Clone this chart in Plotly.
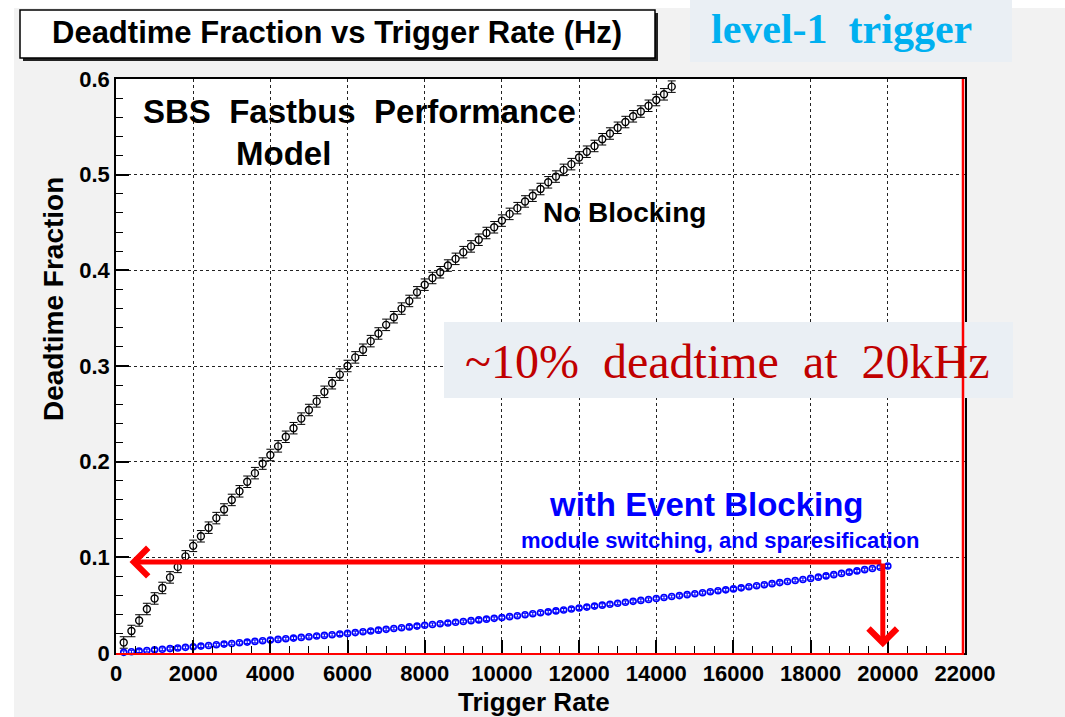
import plotly.graph_objects as go

# ---------------- data ----------------
no_block_rate = [200, 400, 600, 800, 1000, 1200, 1400, 1600, 1800, 2000,
                 2200, 2400, 2600, 2800, 3000, 3200, 3400, 3600, 3800, 4000,
                 4200, 4400, 4600, 4800, 5000, 5200, 5400, 5600, 5800, 6000,
                 6200, 6400, 6600, 6800, 7000, 7200, 7400, 7600, 7800, 8000,
                 8200, 8400, 8600, 8800, 9000, 9200, 9400, 9600, 9800, 10000,
                 10200, 10400, 10600, 10800, 11000, 11200, 11400, 11600, 11800, 12000,
                 12200, 12400, 12600, 12800, 13000, 13200, 13400, 13600, 13800, 14000,
                 14200, 14400]
no_block_dead = [0.011, 0.023, 0.034, 0.046, 0.057, 0.068, 0.079, 0.090, 0.101, 0.112,
                 0.122, 0.131, 0.141, 0.150, 0.160, 0.169, 0.179, 0.188, 0.198, 0.207,
                 0.216, 0.226, 0.235, 0.245, 0.254, 0.263, 0.273, 0.282, 0.291, 0.300,
                 0.309, 0.317, 0.326, 0.334, 0.343, 0.351, 0.360, 0.368, 0.377, 0.385,
                 0.392, 0.398, 0.405, 0.412, 0.419, 0.425, 0.432, 0.439, 0.445, 0.452,
                 0.459, 0.465, 0.472, 0.478, 0.485, 0.492, 0.498, 0.505, 0.511, 0.518,
                 0.524, 0.530, 0.537, 0.543, 0.549, 0.555, 0.561, 0.566, 0.572, 0.578,
                 0.584, 0.592]
no_block_err = 0.006

block_rate = [200, 400, 600, 800, 1000, 1200, 1400, 1600, 1800, 2000,
              2200, 2400, 2600, 2800, 3000, 3200, 3400, 3600, 3800, 4000,
              4200, 4400, 4600, 4800, 5000, 5200, 5400, 5600, 5800, 6000,
              6200, 6400, 6600, 6800, 7000, 7200, 7400, 7600, 7800, 8000,
              8200, 8400, 8600, 8800, 9000, 9200, 9400, 9600, 9800, 10000,
              10200, 10400, 10600, 10800, 11000, 11200, 11400, 11600, 11800, 12000,
              12200, 12400, 12600, 12800, 13000, 13200, 13400, 13600, 13800, 14000,
              14200, 14400, 14600, 14800, 15000, 15200, 15400, 15600, 15800, 16000,
              16200, 16400, 16600, 16800, 17000, 17200, 17400, 17600, 17800, 18000,
              18200, 18400, 18600, 18800, 19000, 19200, 19400, 19600, 19800, 20000]
block_dead = [0.0007, 0.0013, 0.0020, 0.0026, 0.0033, 0.0039, 0.0046, 0.0052, 0.0059, 0.0065,
              0.0072, 0.0079, 0.0086, 0.0093, 0.0100, 0.0107, 0.0114, 0.0121, 0.0128, 0.0135,
              0.0142, 0.0149, 0.0156, 0.0163, 0.0170, 0.0177, 0.0184, 0.0191, 0.0198, 0.0205,
              0.0213, 0.0222, 0.0230, 0.0239, 0.0247, 0.0256, 0.0264, 0.0273, 0.0281, 0.0290,
              0.0298, 0.0306, 0.0314, 0.0322, 0.0330, 0.0338, 0.0346, 0.0354, 0.0362, 0.0370,
              0.0380, 0.0390, 0.0400, 0.0410, 0.0420, 0.0430, 0.0440, 0.0450, 0.0460, 0.0470,
              0.0480, 0.0490, 0.0500, 0.0510, 0.0520, 0.0530, 0.0540, 0.0550, 0.0560, 0.0570,
              0.0580, 0.0590, 0.0600, 0.0610, 0.0620, 0.0630, 0.0640, 0.0650, 0.0660, 0.0670,
              0.0681, 0.0692, 0.0703, 0.0714, 0.0725, 0.0736, 0.0747, 0.0758, 0.0769, 0.0780,
              0.0793, 0.0806, 0.0819, 0.0832, 0.0845, 0.0858, 0.0871, 0.0884, 0.0897, 0.0910]
block_err = 0.0015

x_ticks = [0, 2000, 4000, 6000, 8000, 10000, 12000, 14000, 16000, 18000, 20000, 22000]
y_ticks = [0, 0.1, 0.2, 0.3, 0.4, 0.5, 0.6]

arrow_level = 0.095      # deadtime level marked by the red arrow
arrow_rate = 19870       # trigger rate marked by the red arrow
arrow_left_end = 350
arrow_bottom_end = 0.006

# ---------------- layout geometry ----------------
W, H = 1065, 717
L, R, T, B = 116, 965, 79, 653   # plot area in pixels


def px(xp):
    return (xp - L) / (R - L)


def py(yp):
    return (B - yp) / (B - T)


SANS = "Liberation Sans, Arial, sans-serif"
SERIF = "Liberation Serif, Times New Roman, serif"

fig = go.Figure()

fig.add_trace(go.Scatter(
    x=no_block_rate, y=no_block_dead, mode="markers",
    marker=dict(symbol="circle-open", size=7, color="black", line=dict(width=1.4)),
    error_y=dict(type="constant", value=no_block_err, color="black", thickness=1, width=4),
    showlegend=False, cliponaxis=False))

fig.add_trace(go.Scatter(
    x=block_rate, y=block_dead, mode="markers",
    marker=dict(symbol="circle-open", size=6, color="#0000ff", line=dict(width=1.6)),
    error_y=dict(type="constant", value=block_err, color="#0000ff", thickness=1, width=2),
    showlegend=False, cliponaxis=False))

shapes = []
# white outer strips
shapes.append(dict(type="rect", xref="paper", yref="paper", x0=px(0), x1=px(14), y0=py(0), y1=py(H),
                   fillcolor="white", line=dict(width=0), layer="below"))
shapes.append(dict(type="rect", xref="paper", yref="paper", x0=px(0), x1=px(W), y0=py(0), y1=py(8),
                   fillcolor="white", line=dict(width=0), layer="below"))
# title box shadow + box
shapes.append(dict(type="rect", xref="paper", yref="paper", x0=px(23), x1=px(658), y0=py(13), y1=py(61),
                   fillcolor="#222222", line=dict(width=0)))
shapes.append(dict(type="rect", xref="paper", yref="paper", x0=px(20), x1=px(655), y0=py(10), y1=py(58),
                   fillcolor="white", line=dict(color="black", width=1.5)))
# level-1 trigger box
shapes.append(dict(type="rect", xref="paper", yref="paper", x0=px(690), x1=px(1012), y0=py(0), y1=py(62),
                   fillcolor="#eaeff4", line=dict(width=0)))
# deadtime box
shapes.append(dict(type="rect", xref="paper", yref="paper", x0=px(444), x1=px(1013), y0=py(322), y1=py(398),
                   fillcolor="#eaeff4", line=dict(width=0)))
# red frame pieces right and bottom
shapes.append(dict(type="line", xref="paper", yref="paper", x0=px(963), x1=px(963), y0=py(B + 1), y1=py(T),
                   line=dict(color="#ff0000", width=2.5)))
shapes.append(dict(type="line", xref="paper", yref="paper", x0=px(L), x1=px(964), y0=py(B + 1), y1=py(B + 1),
                   line=dict(color="#ff0000", width=2)))


def label(text, xp, yp, font, angle=0):
    return dict(text=text, xref="paper", yref="paper", x=px(xp), y=py(yp), textangle=angle,
                xanchor="center", yanchor="middle", showarrow=False, font=font)


annotations = [
    label("Deadtime Fraction vs Trigger Rate (Hz)", 337, 33,
          dict(family=SANS, size=31, color="black", weight="bold")),
    label("level-1  trigger", 841, 29, dict(family=SERIF, size=42, color="#00b0f0", weight="bold")),
    label("~10%  deadtime  at  20kHz", 727, 361, dict(family=SERIF, size=48, color="#c00000")),
    label("SBS  Fastbus  Performance", 359, 112, dict(family=SANS, size=33, color="black", weight="bold")),
    label("Model", 283, 153, dict(family=SANS, size=33, color="black", weight="bold")),
    label("No Blocking", 624, 212, dict(family=SANS, size=28, color="black", weight="bold")),
    label("with Event Blocking", 706, 504, dict(family=SANS, size=33, color="#0000ff", weight="bold")),
    label("module switching, and sparesification", 720, 540,
          dict(family=SANS, size=22, color="#0000ff", weight="bold")),
    label("Deadtime Fraction", 53, 299, dict(family=SANS, size=28, color="black", weight="bold"), angle=-90),
    label("Trigger Rate", 534, 702, dict(family=SANS, size=26, color="black", weight="bold")),
    # red arrows
    dict(x=arrow_left_end, y=arrow_level, ax=arrow_rate, ay=arrow_level, xref="x", yref="y",
         axref="x", ayref="y", showarrow=True, arrowhead=4, arrowsize=1.1, arrowwidth=5,
         arrowcolor="#ff0000", text=""),
    dict(x=arrow_rate, y=arrow_bottom_end, ax=arrow_rate, ay=arrow_level, xref="x", yref="y",
         axref="x", ayref="y", showarrow=True, arrowhead=4, arrowsize=1.1, arrowwidth=5,
         arrowcolor="#ff0000", text=""),
]

axis_font = dict(family=SANS, size=22, color="black", weight="bold")

fig.update_layout(
    width=W, height=H, autosize=False,
    margin=dict(l=L, r=W - R, t=T, b=H - B),
    paper_bgcolor="#f2f2f2", plot_bgcolor="white",
    shapes=shapes, annotations=annotations,
    xaxis=dict(range=[0, 22000], tickvals=x_ticks, tickformat="d", automargin=False,
               ticks="inside", ticklen=13, tickwidth=1.5, tickcolor="black",
               minor=dict(dtick=500, ticks="inside", ticklen=7, tickcolor="black", tickwidth=1.2, showgrid=False),
               showgrid=True, gridcolor="#222222", griddash="dot", gridwidth=1,
               showline=True, linecolor="black", linewidth=1.5, mirror=True,
               zeroline=False, tickfont=axis_font),
    yaxis=dict(range=[0, 0.6], tickvals=y_ticks, automargin=False,
               ticks="inside", ticklen=13, tickwidth=1.5, tickcolor="black",
               minor=dict(dtick=0.02, ticks="inside", ticklen=7, tickcolor="black", tickwidth=1.2, showgrid=False),
               showgrid=True, gridcolor="#222222", griddash="dot", gridwidth=1,
               showline=True, linecolor="black", linewidth=1.5, mirror=True,
               zeroline=False, tickfont=axis_font),
)

fig.write_html("out.html", config={"displayModeBar": False},
               post_script="document.body.style.margin='0';document.body.style.overflow='hidden';")
